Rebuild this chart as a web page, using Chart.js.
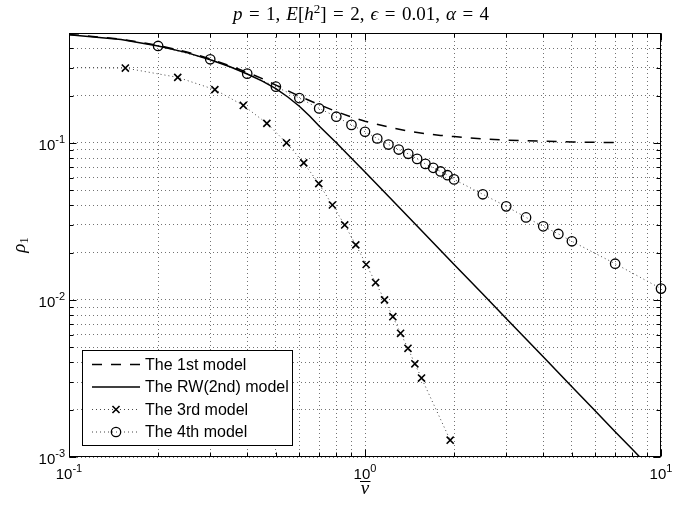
<!DOCTYPE html>
<html>
<head>
<meta charset="utf-8">
<script src="https://cdn.jsdelivr.net/npm/chart.js@4.4.1/dist/chart.umd.min.js"></script>
<style>
  html, body { margin: 0; padding: 0; background: #fff; }
  canvas { display: block; }
</style>
</head>
<body>
<canvas id="myChart" width="696" height="506"></canvas>
<script>
//---------- values ----------
// 1st model (dashed)
const model1X = [0.1, 0.15, 0.2, 0.25, 0.3, 0.35, 0.4, 0.45, 0.5, 0.6, 0.7, 0.8, 0.9, 1.0, 1.2, 1.4, 1.6, 1.8, 2.0, 2.5, 3.0, 4.0, 5.0, 6.0, 7.0];
const model1Y = [0.49, 0.457, 0.417, 0.379, 0.342, 0.309, 0.281, 0.256, 0.233, 0.198, 0.175, 0.158, 0.146, 0.1373, 0.126, 0.1185, 0.1142, 0.1115, 0.1095, 0.1058, 0.104, 0.1023, 0.1013, 0.1007, 0.1004];

// RW (2nd) model (solid)
const model2X = [0.1, 0.15, 0.2, 0.25, 0.3, 0.35, 0.4, 0.45, 0.5, 0.55, 0.6, 0.65, 0.7, 0.8, 0.9, 1.0, 1.2, 1.5, 2.0, 2.5, 3.0, 4.0, 5.0, 6.0, 7.0, 8.0, 9.0, 10];
const model2Y = [0.487, 0.455, 0.413, 0.375, 0.338, 0.305, 0.274, 0.247, 0.221, 0.195, 0.171, 0.148, 0.128, 0.100, 0.0797, 0.0652, 0.0457, 0.0295, 0.0168, 0.0109, 0.00762, 0.00434, 0.00280, 0.00196, 0.00145, 0.00112, 0.000889, 0.000724];

// 3rd model (dotted, x markers)
const model3X = [0.078, 0.155, 0.233, 0.311, 0.388, 0.466, 0.543, 0.621, 0.698, 0.776, 0.854, 0.931, 1.009, 1.086, 1.164, 1.242, 1.319, 1.397, 1.474, 1.552, 1.94];
const model3Y = [0.302, 0.299, 0.261, 0.218, 0.173, 0.133, 0.100, 0.0745, 0.055, 0.0402, 0.030, 0.0224, 0.0168, 0.0129, 0.0100, 0.00782, 0.00613, 0.00492, 0.00392, 0.00318, 0.00128];

// 4th model (dotted, o markers)
const model4X = [0.2, 0.3, 0.4, 0.5, 0.6, 0.7, 0.8, 0.9, 1.0, 1.1, 1.2, 1.3, 1.4, 1.5, 1.6, 1.7, 1.8, 1.9, 2.0, 2.5, 3.0, 3.5, 4.0, 4.5, 5.0, 7.0, 10];
const model4Y = [0.4135, 0.340, 0.2756, 0.2277, 0.1926, 0.1655, 0.1466, 0.130, 0.1176, 0.1065, 0.0975, 0.0906, 0.0851, 0.079, 0.0734, 0.0693, 0.0657, 0.0622, 0.0585, 0.047, 0.0394, 0.0335, 0.0294, 0.0263, 0.0236, 0.0170, 0.0118];

const legendLabels = ['The 1st model', 'The RW(2nd) model', 'The 3rd model', 'The 4th model'];

// axes
const xMin = 0.1, xMax = 10;
const yMin = 0.001, yMax = 0.5;
const xTickValues = [0.1, 1, 10];
const xTickExps = ['-1', '0', '1'];
const yTickValues = [0.001, 0.01, 0.1];
const yTickExps = ['-3', '-2', '-1'];

// grid/minor tick positions: 1..9 x each decade inside the range
function decadeSteps(lo, hi) {
  const out = [];
  for (let e = Math.floor(Math.log10(lo)); e <= Math.ceil(Math.log10(hi)); e++) {
    for (let m = 1; m <= 9; m++) {
      const v = +(m * Math.pow(10, e)).toPrecision(6);
      if (v >= lo * 0.9999 && v <= hi * 1.0001) out.push(v);
    }
  }
  return out;
}
const xGridValues = decadeSteps(xMin, xMax);
const yGridValues = decadeSteps(yMin, yMax);

const toPoints = (xs, ys) => xs.map((x, i) => ({x: x, y: ys[i]}));

//---------- decorations: box, inward ticks, labels, title, legend ----------
const SANS = '"Liberation Sans", Arial, Helvetica, sans-serif';
const SERIF = '"Liberation Serif", "Times New Roman", serif';

function drawPow(ctx, exp, x, y, align) {
  ctx.font = '15px ' + SANS;
  const wBase = ctx.measureText('10').width;
  ctx.font = '11px ' + SANS;
  const wExp = ctx.measureText(exp).width;
  const w = wBase + wExp;
  const left = align === 'center' ? x - w / 2 : x - w;
  ctx.textBaseline = 'alphabetic';
  ctx.textAlign = 'left';
  ctx.font = '15px ' + SANS;
  ctx.fillText('10', left, y);
  ctx.font = '11px ' + SANS;
  ctx.fillText(exp, left + wBase, y - 7);
}

function drawTitle(ctx, cx, baseY) {
  // [text, style]  i = italic, r = roman, sup = superscript, op = '=' with space, gap = comma space
  const parts = [
    ['p', 'i'], ['=', 'op'], ['1,', 'r'], ['', 'gap'], ['E', 'i'], ['[', 'r'], ['h', 'i'], ['2', 'sup'], [']', 'r'], ['=', 'op'],
    ['2,', 'r'], ['', 'gap'], ['\u03F5', 'i'], ['=', 'op'], ['0.01,', 'r'], ['', 'gap'], ['\u03B1', 'i'], ['=', 'op'], ['4', 'r']
  ];
  const fontOf = s => s === 'i' ? 'italic 19px ' + SERIF : (s === 'sup' ? '13px ' + SERIF : '19px ' + SERIF);
  const pad = s => s === 'op' ? 6.5 : (s === 'gap' ? 3 : 0);
  let w = 0;
  parts.forEach(p => { ctx.font = fontOf(p[1]); w += ctx.measureText(p[0]).width + 2 * pad(p[1]); });
  let xp = cx - w / 2;
  ctx.textAlign = 'left';
  ctx.textBaseline = 'alphabetic';
  parts.forEach(p => {
    ctx.font = fontOf(p[1]);
    xp += pad(p[1]);
    ctx.fillText(p[0], xp, p[1] === 'sup' ? baseY - 7.5 : baseY);
    xp += ctx.measureText(p[0]).width + pad(p[1]);
  });
}

const figureDecor = {
  id: 'figureDecor',
  afterDraw(chart) {
    const {ctx, chartArea: a, scales: {x, y}} = chart;
    const L = a.left + 0.5, R = a.right - 0.5, T = a.top + 0.5, B = a.bottom - 0.5;
    ctx.save();
    ctx.fillStyle = '#000';
    ctx.strokeStyle = '#000';
    ctx.lineWidth = 1;
    ctx.setLineDash([]);

    // inward tick marks on all four sides
    ctx.beginPath();
    xGridValues.forEach(v => {
      const px = Math.round(x.getPixelForValue(v)) + 0.5;
      const len = xTickValues.includes(v) ? 7 : 4;
      ctx.moveTo(px, B); ctx.lineTo(px, B - len);
      ctx.moveTo(px, T); ctx.lineTo(px, T + len);
    });
    yGridValues.forEach(v => {
      const py = Math.round(y.getPixelForValue(v)) + 0.5;
      const len = yTickValues.includes(v) ? 7 : 4;
      ctx.moveTo(L, py); ctx.lineTo(L + len, py);
      ctx.moveTo(R, py); ctx.lineTo(R - len, py);
    });
    ctx.stroke();

    // axes box
    ctx.strokeRect(L, T, R - L, B - T);

    // tick labels
    xTickValues.forEach((v, i) => drawPow(ctx, xTickExps[i], x.getPixelForValue(v), a.bottom + 22, 'center'));
    yTickValues.forEach((v, i) => drawPow(ctx, yTickExps[i], a.left - 4, y.getPixelForValue(v) + 7, 'right'));

    // title
    drawTitle(ctx, (a.left + a.right) / 2 - 4, 20);

    // x label: v with a bar
    ctx.font = 'italic 19px ' + SERIF;
    ctx.textAlign = 'center';
    ctx.textBaseline = 'alphabetic';
    const xc = (a.left + a.right) / 2;
    ctx.fillText('v', xc, 494);
    ctx.beginPath();
    ctx.moveTo(xc - 5, 481.5); ctx.lineTo(xc + 5.5, 481.5);
    ctx.stroke();

    // y label: rho_1
    ctx.save();
    ctx.translate(25, (a.top + a.bottom) / 2);
    ctx.rotate(-Math.PI / 2);
    ctx.font = 'italic 19px ' + SERIF;
    const wr = ctx.measureText('\u03C1').width;
    ctx.font = '13px ' + SERIF;
    const w1 = ctx.measureText('1').width;
    ctx.textAlign = 'left';
    ctx.font = 'italic 19px ' + SERIF;
    ctx.fillText('\u03C1', -(wr + w1) / 2, 0);
    ctx.font = '13px ' + SERIF;
    ctx.fillText('1', -(wr + w1) / 2 + wr, 3);
    ctx.restore();

    // legend
    const box = {x: 82.5, y: 350.5, w: 210, h: 95};
    ctx.fillStyle = '#fff';
    ctx.fillRect(box.x, box.y, box.w, box.h);
    ctx.strokeStyle = '#000';
    ctx.strokeRect(box.x, box.y, box.w, box.h);
    const rows = [364.5, 387, 409.5, 432];
    chart.data.datasets.forEach((ds, i) => {
      const yy = rows[i];
      ctx.save();
      ctx.strokeStyle = ds.borderColor;
      ctx.lineWidth = ds.borderWidth;
      ctx.setLineDash(ds.borderDash || []);
      ctx.beginPath();
      ctx.moveTo(92, yy); ctx.lineTo(140, yy);
      ctx.stroke();
      ctx.restore();
      if (ds.pointRadius > 0) {
        ctx.save();
        ctx.strokeStyle = ds.pointBorderColor;
        ctx.fillStyle = 'rgba(0,0,0,0)';
        ctx.lineWidth = ds.pointBorderWidth;
        ctx.setLineDash([]);
        Chart.helpers.drawPoint(ctx, {pointStyle: ds.pointStyle, radius: ds.pointRadius, rotation: 0, borderWidth: ds.pointBorderWidth}, 116, yy);
        ctx.restore();
      }
      ctx.fillStyle = '#000';
      ctx.font = '16px ' + SANS;
      ctx.textAlign = 'left';
      ctx.textBaseline = 'middle';
      ctx.fillText(legendLabels[i], 145, yy + 1);
    });
    ctx.restore();
  }
};

//---------- chart ----------
const gridStyle = {
  color: 'rgba(0,0,0,0.55)',
  lineWidth: 1,
  drawTicks: false
};

const ctx = document.getElementById('myChart');
const chart = new Chart(ctx, {
  type: 'line',
  data: {
    datasets: [
      {
        label: legendLabels[0],
        data: toPoints(model1X, model1Y),
        borderColor: '#000', borderWidth: 1.5, borderDash: [10, 9],
        pointRadius: 0, fill: false, tension: 0
      },
      {
        label: legendLabels[1],
        data: toPoints(model2X, model2Y),
        borderColor: '#000', borderWidth: 1.5,
        pointRadius: 0, fill: false, tension: 0
      },
      {
        label: legendLabels[2],
        data: toPoints(model3X, model3Y),
        borderColor: '#444', borderWidth: 1, borderDash: [1, 3],
        pointStyle: 'crossRot', pointRadius: 5, pointBorderWidth: 1.6,
        pointBorderColor: '#000', pointBackgroundColor: 'rgba(0,0,0,0)',
        fill: false, tension: 0
      },
      {
        label: legendLabels[3],
        data: toPoints(model4X, model4Y),
        borderColor: '#444', borderWidth: 1, borderDash: [1, 3],
        pointStyle: 'circle', pointRadius: 4.7, pointBorderWidth: 1.3,
        pointBorderColor: '#000', pointBackgroundColor: 'rgba(0,0,0,0)',
        fill: false, tension: 0, clip: false
      }
    ]
  },
  options: {
    responsive: false,
    animation: false,
    devicePixelRatio: 1,
    events: [],
    layout: { padding: { left: 69, right: 35, top: 33, bottom: 49 } },
    plugins: {
      legend: { display: false },
      tooltip: { enabled: false }
    },
    scales: {
      x: {
        type: 'logarithmic', min: xMin, max: xMax,
        ticks: { display: false },
        grid: gridStyle,
        border: { display: false, dash: [1, 3] },
        afterBuildTicks: scale => { scale.ticks = xGridValues.map(v => ({value: v})); }
      },
      y: {
        type: 'logarithmic', min: yMin, max: yMax,
        ticks: { display: false },
        grid: gridStyle,
        border: { display: false, dash: [1, 3] },
        afterBuildTicks: scale => { scale.ticks = yGridValues.map(v => ({value: v})); }
      }
    }
  },
  plugins: [figureDecor]
});
</script>
</body>
</html>
